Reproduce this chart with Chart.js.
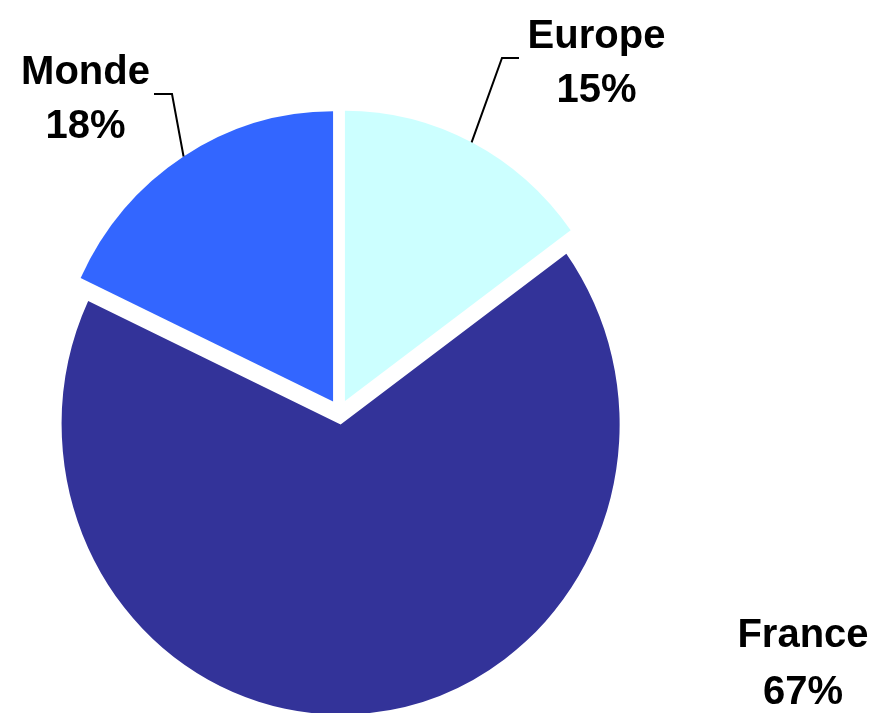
<!DOCTYPE html>
<html>
<head>
<meta charset="utf-8">
<script src="https://cdn.jsdelivr.net/npm/chart.js@4"></script>
<style>
  html, body { margin: 0; padding: 0; background: #ffffff; }
  canvas { display: block; }
</style>
</head>
<body>
<canvas id="c" width="878" height="713"></canvas>
<script>
// ---- data ----
const categories = ['Europe', 'France', 'Monde'];
const shares = [15, 67, 18];

// ---- styles ----
const sliceColors = ['#CCFFFF', '#333399', '#3366FF'];
const FONT = 'bold 40px "Liberation Sans", Arial, sans-serif';
const EXPLODE = 12;      // px each slice is pulled out along its bisector
const Y_STRETCH = 1.04;  // the reference pie is slightly taller than wide

// label layout (text centre x, baselines) and leader-line elbows
const labelLayout = [
  { x: 596.5, y: [48, 102], leader: [[519, 58], [502, 58]] },   // Europe
  { x: 803,   y: [647, 704], leader: null },                    // France
  { x: 85.5,  y: [84, 138],  leader: [[154, 94], [172, 94]] }   // Monde
];

function centerY(chart) {
  return (chart.chartArea.top + chart.chartArea.bottom) / 2;
}

const explodedPie = {
  id: 'explodedPie',
  beforeDatasetsDraw(chart) {
    const ctx = chart.ctx;
    const cy = centerY(chart);
    const meta = chart.getDatasetMeta(0);
    meta.data.forEach(arc => {
      const mid = (arc.startAngle + arc.endAngle) / 2;
      ctx.save();
      ctx.translate(0, cy);
      ctx.scale(1, Y_STRETCH);
      ctx.translate(0, -cy);
      ctx.translate(Math.cos(mid) * EXPLODE, Math.sin(mid) * EXPLODE);
      arc.draw(ctx);
      ctx.restore();
    });
    return false;
  }
};

const labelsPlugin = {
  id: 'sliceLabels',
  afterDraw(chart) {
    const ctx = chart.ctx;
    const cy = centerY(chart);
    const meta = chart.getDatasetMeta(0);
    ctx.save();
    // leader lines, anchored at each slice's outer mid-point
    ctx.strokeStyle = '#000000';
    ctx.lineWidth = 2;
    meta.data.forEach((arc, i) => {
      const lay = labelLayout[i];
      if (!lay.leader) return;
      const mid = (arc.startAngle + arc.endAngle) / 2;
      const r = arc.outerRadius + EXPLODE;
      const ax = arc.x + Math.cos(mid) * r;
      const ay = cy + (arc.y - cy + Math.sin(mid) * r) * Y_STRETCH;
      ctx.beginPath();
      ctx.moveTo(lay.leader[0][0], lay.leader[0][1]);
      ctx.lineTo(lay.leader[1][0], lay.leader[1][1]);
      ctx.lineTo(ax, ay);
      ctx.stroke();
    });
    // texts
    ctx.fillStyle = '#000000';
    ctx.font = FONT;
    ctx.textAlign = 'center';
    ctx.textBaseline = 'alphabetic';
    categories.forEach((name, i) => {
      const lay = labelLayout[i];
      ctx.fillText(name, lay.x, lay.y[0]);
      ctx.fillText(shares[i] + '%', lay.x, lay.y[1]);
    });
    ctx.restore();
  }
};

new Chart(document.getElementById('c'), {
  type: 'pie',
  data: {
    labels: categories,
    datasets: [{
      data: shares,
      backgroundColor: sliceColors,
      borderWidth: 0,
      offset: 0
    }]
  },
  options: {
    responsive: false,
    devicePixelRatio: 1,
    animation: false,
    events: [],
    radius: 279,
    layout: { padding: { left: 0, right: 199, top: 111, bottom: 0 } },
    plugins: {
      legend: { display: false },
      tooltip: { enabled: false },
      title: { display: false }
    }
  },
  plugins: [explodedPie, labelsPlugin]
});
</script>
</body>
</html>
